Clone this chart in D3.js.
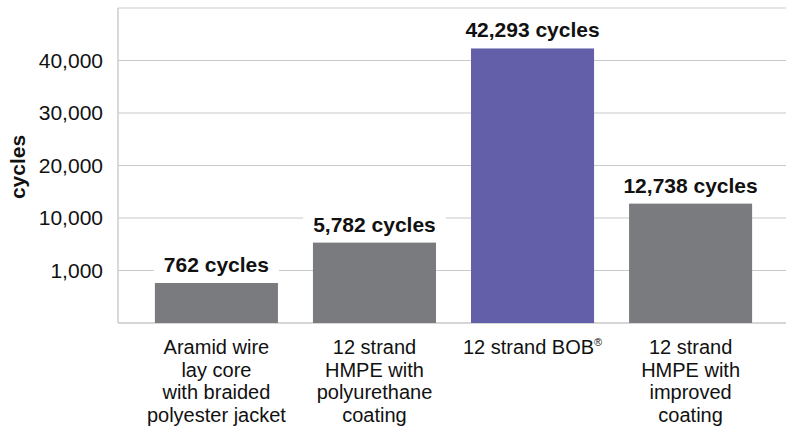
<!DOCTYPE html>
<html>
<head>
<meta charset="utf-8">
<script src="https://cdn.jsdelivr.net/npm/d3@7/dist/d3.min.js"></script>
<style>
  html, body { margin: 0; padding: 0; background: #fff; }
  svg { display: block; font-family: "Liberation Sans", Arial, Helvetica, sans-serif; }
</style>
</head>
<body>
<svg id="chart" width="786" height="430"></svg>
<script>
// ---- data ----
const categories = [
  "Aramid wire lay core with braided polyester jacket",
  "12 strand HMPE with polyurethane coating",
  "12 strand BOB",
  "12 strand HMPE with improved coating"
];
const categoryLines = [
  ["Aramid wire", "lay core", "with braided", "polyester jacket"],
  ["12 strand", "HMPE with", "polyurethane", "coating"],
  ["12 strand BOB"],
  ["12 strand", "HMPE with", "improved", "coating"]
];
const values = [762, 5782, 42293, 12738];
const scaleBreaks = [0, 1000, 10000, 20000, 30000, 40000, 50000];
const tickValues = [1000, 10000, 20000, 30000, 40000];
const tickLabels = ["1,000", "10,000", "20,000", "30,000", "40,000"];
const yTitle = "cycles";
const highlighted = "12 strand BOB";

// ---- layout ----
const svg = d3.select("#chart");
const pLeft = 118, pRight = 786, pTop = 8, pBottom = 323;
const stepY = (pBottom - pTop) / (scaleBreaks.length - 1);

const y = d3.scaleLinear()
  .domain(scaleBreaks)
  .range(scaleBreaks.map((d, i) => pBottom - i * stepY));

const x = d3.scaleBand()
  .domain(categories)
  .range([137.5, 769.5])
  .paddingInner(0.2215)
  .paddingOuter(0.11);

const gridColor = "#c9c9c9";

// gridlines (including top border at max)
svg.append("g")
  .selectAll("line")
  .data(tickValues.concat([scaleBreaks[scaleBreaks.length - 1]]))
  .join("line")
  .attr("x1", pLeft).attr("x2", pRight)
  .attr("y1", d => y(d)).attr("y2", d => y(d))
  .attr("stroke", gridColor).attr("stroke-width", 1.2);

// axis lines
svg.append("line").attr("x1", pLeft).attr("x2", pLeft).attr("y1", pTop).attr("y2", pBottom)
  .attr("stroke", gridColor).attr("stroke-width", 1.4);
svg.append("line").attr("x1", pLeft).attr("x2", pRight).attr("y1", pBottom).attr("y2", pBottom)
  .attr("stroke", gridColor).attr("stroke-width", 1.6);

// y tick labels via axis
const yAxis = d3.axisLeft(y)
  .tickValues(tickValues)
  .tickFormat((d, i) => tickLabels[i])
  .tickSize(0)
  .tickPadding(15);
const gy = svg.append("g").attr("transform", `translate(${pLeft},0)`).call(yAxis);
gy.select(".domain").remove();
gy.selectAll("text")
  .attr("font-size", 21)
  .attr("fill", "#111")
  .attr("font-family", "'Liberation Sans', Arial, Helvetica, sans-serif");

// y title
svg.append("text")
  .attr("transform", `translate(25,167) rotate(-90)`)
  .attr("text-anchor", "middle")
  .attr("font-size", 21)
  .attr("font-weight", "bold")
  .attr("fill", "#111")
  .text(yTitle);

// bars
svg.append("g")
  .selectAll("rect")
  .data(values)
  .join("rect")
  .attr("x", (d, i) => x(categories[i]))
  .attr("width", x.bandwidth())
  .attr("y", d => y(d))
  .attr("height", d => pBottom - y(d))
  .attr("fill", (d, i) => categories[i] === highlighted ? "#635fa9" : "#7a7b7f");

// value labels with white background
const fmt = d3.format(",");
const lg = svg.append("g");
values.forEach((v, i) => {
  const cx = x(categories[i]) + x.bandwidth() / 2;
  const by = y(v) - 11;
  const g = lg.append("g");
  const bg = g.append("rect").attr("fill", "#fff");
  const t = g.append("text")
    .attr("x", cx).attr("y", by)
    .attr("text-anchor", "middle")
    .attr("font-size", 21)
    .attr("font-weight", "bold")
    .attr("fill", "#111")
    .text(fmt(v) + " cycles");
  const bb = t.node().getBBox();
  const pad = 10;
  bg.attr("x", bb.x - pad).attr("width", bb.width + 2 * pad)
    .attr("y", bb.y - 1).attr("height", bb.height + 2);
});

// category labels
const xg = svg.append("g");
categoryLines.forEach((lines, i) => {
  const cx = x(categories[i]) + x.bandwidth() / 2;
  const t = xg.append("text")
    .attr("text-anchor", "middle")
    .attr("font-size", 20)
    .attr("fill", "#111");
  lines.forEach((ln, j) => {
    t.append("tspan").attr("x", cx).attr("y", 354 + j * 22.7).text(ln);
  });
  if (categories[i] === highlighted) {
    t.append("tspan").attr("font-size", 11).attr("dy", -8).text("®");
  }
});
</script>
</body>
</html>
